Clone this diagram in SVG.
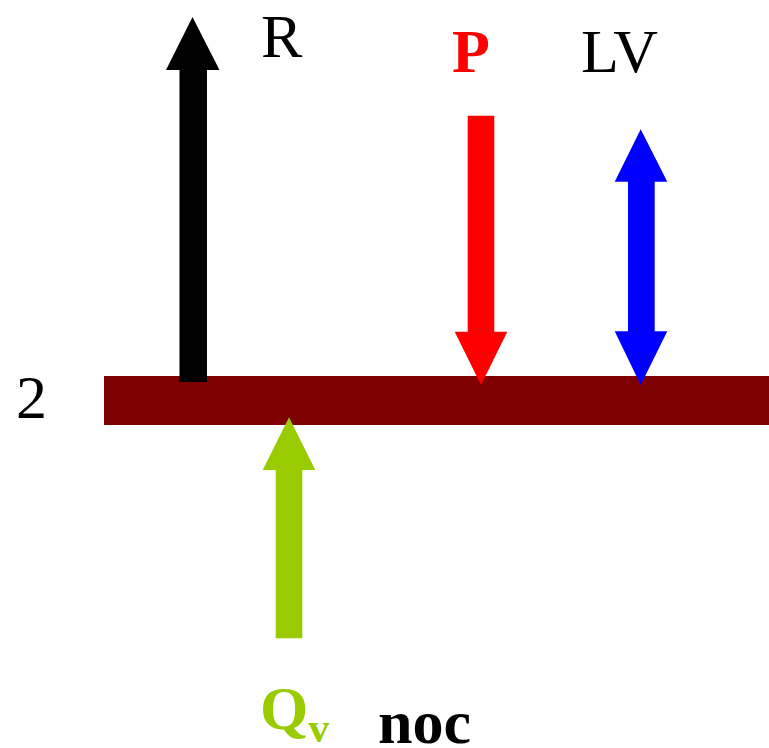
<svg xmlns="http://www.w3.org/2000/svg" width="769" height="748" viewBox="0 0 769 748">
  <style>
    .lbl { font-family: "Liberation Serif", "Times New Roman", serif; font-size: 62px; }
    .bold { font-weight: bold; }
  </style>
  <rect width="769" height="748" fill="#ffffff"/>

  <!-- horizontal beam -->
  <g id="beam">
    <rect x="104" y="376" width="665" height="49" fill="#7f0000"/>
    <text class="lbl" x="16" y="418">2</text>
  </g>

  <g id="connectors">
    <!-- R : black upward arrow -->
    <g id="arrow-R">
      <polygon points="179.5,382 179.5,70 166,70 192.5,17 219.5,70 207,70 207,382" fill="#000000"/>
    </g>
    <!-- P : red downward arrow -->
    <g id="arrow-P">
      <polygon points="467.7,115.7 494.3,115.7 494.3,331.7 507.3,331.7 481,385 454.7,331.7 467.7,331.7" fill="#ff0000"/>
    </g>
    <!-- LV : blue double-headed arrow -->
    <g id="arrow-LV">
      <polygon points="640.7,129.3 667.3,181.7 654.7,181.7 654.7,331.3 667.3,331.3 640.7,385 614.7,331.3 628,331.3 628,181.7 614.7,181.7" fill="#0000ff"/>
    </g>
    <!-- Qv : green upward arrow -->
    <g id="arrow-Qv">
      <polygon points="275.7,638.3 275.7,470 262.7,470 289,417.3 315.3,470 302.3,470 302.3,638.3" fill="#99cc00"/>
    </g>
  </g>

  <g id="label-R"><text class="lbl" x="261" y="57">R</text></g>
  <g id="label-P"><text class="lbl bold" x="452" y="72" fill="#ff0000">P</text></g>
  <g id="label-LV"><text class="lbl" x="581" y="72">LV</text></g>
  <g id="label-Qv">
    <text class="lbl bold" x="260" y="729" font-size="64" fill="#99cc00">Q<tspan font-size="42" dy="13">v</tspan></text>
  </g>
  <g id="label-noc"><text class="lbl bold" x="378" y="743" font-size="64">noc</text></g>
</svg>
